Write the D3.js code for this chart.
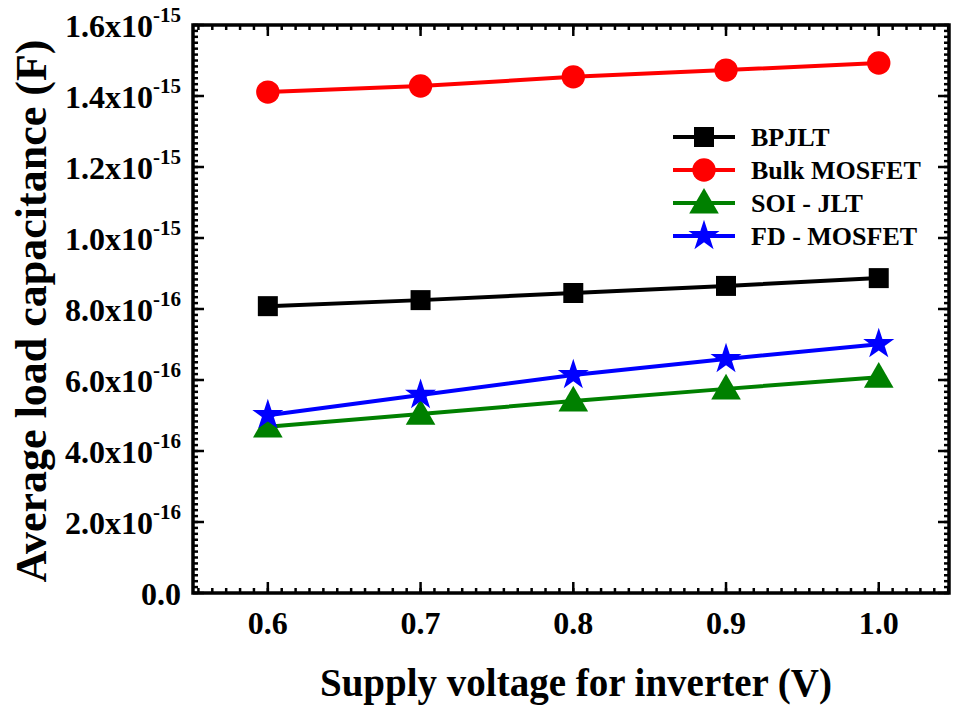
<!DOCTYPE html>
<html>
<head>
<meta charset="utf-8">
<script src="https://cdn.jsdelivr.net/npm/d3@7"></script>
<style>
  body { margin: 0; background: #fff; }
  text { font-family: "Liberation Serif", "Times New Roman", serif; font-weight: bold; }
</style>
</head>
<body>
<div id="container"></div>
<script>
/* DATA */
const voltages = [0.6, 0.7, 0.8, 0.9, 1.0];
const bpjlt = [0.808e-15, 0.825e-15, 0.845e-15, 0.865e-15, 0.887e-15];
const bulkMosfet = [1.411e-15, 1.428e-15, 1.454e-15, 1.473e-15, 1.493e-15];
const soiJlt = [0.468e-15, 0.504e-15, 0.541e-15, 0.575e-15, 0.608e-15];
const fdMosfet = [0.501e-15, 0.558e-15, 0.614e-15, 0.659e-15, 0.701e-15];
const seriesNames = ["BPJLT", "Bulk MOSFET", "SOI - JLT", "FD - MOSFET"];
const xTicks = [0.6, 0.7, 0.8, 0.9, 1.0];
const yTicks = [0, 0.2e-15, 0.4e-15, 0.6e-15, 0.8e-15, 1.0e-15, 1.2e-15, 1.4e-15, 1.6e-15];
const yTickMant = ["0.0", "2.0", "4.0", "6.0", "8.0", "1.0", "1.2", "1.4", "1.6"];
const yTickExp = ["", "-16", "-16", "-16", "-16", "-15", "-15", "-15", "-15"];

/* CONSTANTS */
const width = 954, height = 709,
  margin = { top: 25, bottom: 116, left: 193, right: 5 };

const series = [
  { name: seriesNames[0], values: bpjlt, color: "#000000", symbol: "square" },
  { name: seriesNames[1], values: bulkMosfet, color: "#ff0000", symbol: "circle" },
  { name: seriesNames[2], values: soiJlt, color: "#008000", symbol: "triangle" },
  { name: seriesNames[3], values: fdMosfet, color: "#0000ff", symbol: "star" }
];

/* SCALES */
const xScale = d3.scaleLinear()
  .domain([0.551, 1.046])
  .range([margin.left, width - margin.right]);

const yScale = d3.scaleLinear()
  .domain([0, 1.6e-15])
  .range([height - margin.bottom, margin.top]);

const symbolFor = {
  square: d3.symbol().type(d3.symbolSquare).size(400),
  circle: d3.symbol().type(d3.symbolCircle).size(430),
  triangle: d3.symbol().type(d3.symbolTriangle).size(380),
  star: d3.symbol().type(d3.symbolStar).size(300)
};

/* SVG */
const svg = d3.select("#container")
  .append("svg")
  .attr("width", width)
  .attr("height", height);

const x0 = margin.left, x1 = width - margin.right,
  y0 = height - margin.bottom, y1 = margin.top;

// minor ticks
const xMinor = d3.range(0, 56).map(i => 0.6 + (i - 5) * 0.1 / 11)
  .filter(v => v > 0.551 && v < 1.046);
const yMinor = d3.range(0, 97).map(i => i * 0.2e-15 / 12);

const ticks = svg.append("g").attr("stroke", "#000");
xMinor.forEach(v => {
  const x = xScale(v);
  ticks.append("line").attr("x1", x).attr("x2", x).attr("y1", y0).attr("y2", y0 - 5).attr("stroke-width", 2.5);
  ticks.append("line").attr("x1", x).attr("x2", x).attr("y1", y1).attr("y2", y1 + 5).attr("stroke-width", 2.5);
});
xTicks.forEach(v => {
  const x = xScale(v);
  ticks.append("line").attr("x1", x).attr("x2", x).attr("y1", y0).attr("y2", y0 - 11).attr("stroke-width", 2.5);
  ticks.append("line").attr("x1", x).attr("x2", x).attr("y1", y1).attr("y2", y1 + 11).attr("stroke-width", 2.5);
});
yMinor.forEach(v => {
  const y = yScale(v);
  ticks.append("line").attr("y1", y).attr("y2", y).attr("x1", x0).attr("x2", x0 + 5).attr("stroke-width", 2.5);
  ticks.append("line").attr("y1", y).attr("y2", y).attr("x1", x1).attr("x2", x1 - 5).attr("stroke-width", 2.5);
});
yTicks.forEach(v => {
  const y = yScale(v);
  ticks.append("line").attr("y1", y).attr("y2", y).attr("x1", x0).attr("x2", x0 + 11).attr("stroke-width", 2.5);
  ticks.append("line").attr("y1", y).attr("y2", y).attr("x1", x1).attr("x2", x1 - 11).attr("stroke-width", 2.5);
});

// frame
svg.append("rect")
  .attr("x", x0).attr("y", y1)
  .attr("width", x1 - x0).attr("height", y0 - y1)
  .attr("fill", "none").attr("stroke", "#000").attr("stroke-width", 3.5);

// x tick labels
svg.append("g").selectAll("text")
  .data(xTicks)
  .join("text")
  .attr("x", d => xScale(d))
  .attr("y", y0 + 41)
  .attr("text-anchor", "middle")
  .style("font-size", "32px")
  .text(d => d.toFixed(1));

// y tick labels
const yLab = svg.append("g").selectAll("text")
  .data(yTicks)
  .join("text")
  .attr("x", x0 - 12)
  .attr("y", d => yScale(d) + 12)
  .attr("text-anchor", "end")
  .style("font-size", "32px");
yLab.each(function(d, i) {
  const t = d3.select(this);
  if (yTickExp[i] === "") {
    t.text(yTickMant[i]);
  } else {
    t.append("tspan").text(yTickMant[i] + "x10");
    t.append("tspan").attr("dy", -15).style("font-size", "21px").text(yTickExp[i]);
  }
});

// axis titles
svg.append("text")
  .attr("x", 576)
  .attr("y", 696)
  .attr("text-anchor", "middle")
  .style("font-size", "39px")
  .text("Supply voltage for inverter (V)");

svg.append("text")
  .attr("transform", `translate(46,${(y0 + y1) / 2 + 2}) rotate(-90)`)
  .attr("text-anchor", "middle")
  .style("font-size", "44px")
  .text("Average load capacitance (F)");

// lines and markers
const line = d3.line()
  .x((d, i) => xScale(voltages[i]))
  .y(d => yScale(d));

series.forEach(s => {
  svg.append("path")
    .datum(s.values)
    .attr("d", line)
    .attr("fill", "none")
    .attr("stroke", s.color)
    .attr("stroke-width", 4);
  svg.append("g").selectAll("path")
    .data(s.values)
    .join("path")
    .attr("d", symbolFor[s.symbol])
    .attr("transform", (d, i) => `translate(${xScale(voltages[i])},${yScale(d) + (s.symbol === "triangle" ? 2 : 0)})`)
    .attr("fill", s.color);
});

// legend
const legend = svg.append("g").attr("transform", "translate(673,137)");
series.forEach((s, i) => {
  const g = legend.append("g").attr("transform", `translate(0,${i * 33})`);
  g.append("line").attr("x1", 0).attr("x2", 62).attr("y1", 0).attr("y2", 0)
    .attr("stroke", s.color).attr("stroke-width", 4);
  g.append("path").attr("d", symbolFor[s.symbol])
    .attr("transform", `translate(31,${s.symbol === "triangle" ? 2 : 0})`)
    .attr("fill", s.color);
  g.append("text").attr("x", 78).attr("y", 9)
    .style("font-size", "26px")
    .text(s.name);
});
</script>
</body>
</html>
